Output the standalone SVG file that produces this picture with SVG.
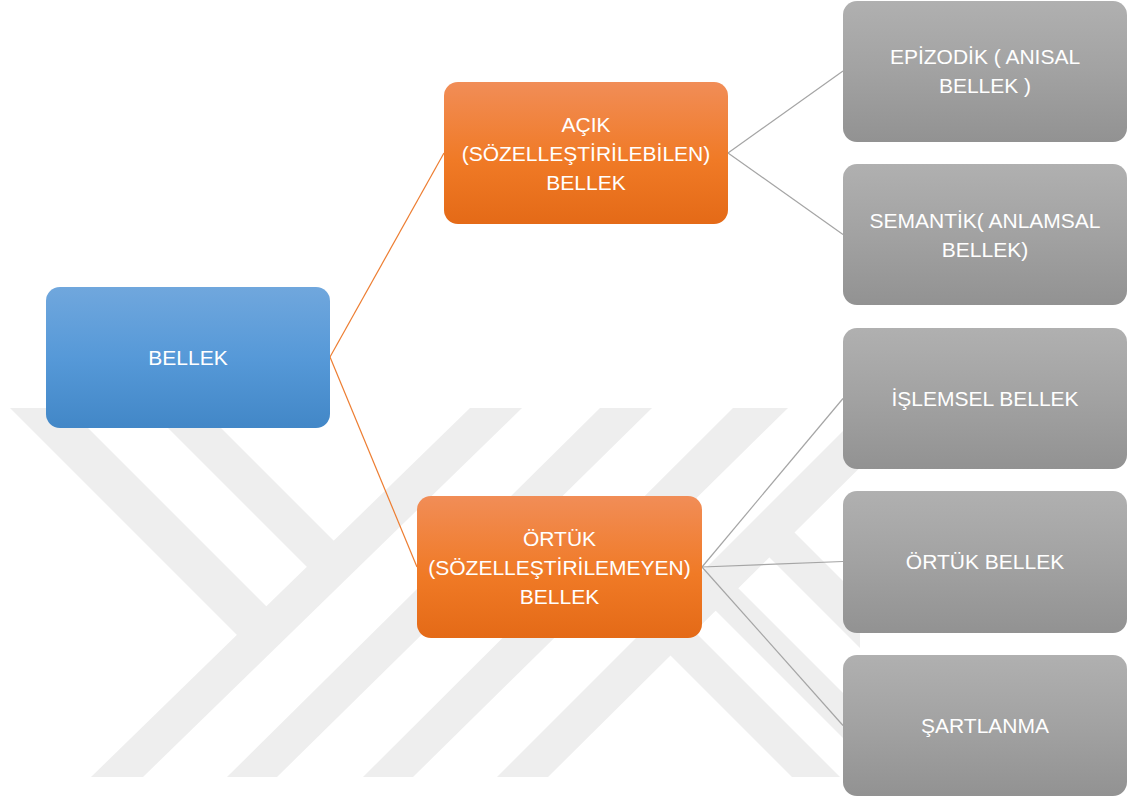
<svg xmlns="http://www.w3.org/2000/svg" width="1128" height="798" viewBox="0 0 1128 798">
  <defs>
    <linearGradient id="gBlue" x1="0" y1="0" x2="0" y2="1">
      <stop offset="0" stop-color="#70a7dd"/>
      <stop offset="0.5" stop-color="#5699d8"/>
      <stop offset="1" stop-color="#4287c7"/>
    </linearGradient>
    <linearGradient id="gOrange" x1="0" y1="0" x2="0" y2="1">
      <stop offset="0" stop-color="#f18d57"/>
      <stop offset="0.55" stop-color="#f07a26"/>
      <stop offset="1" stop-color="#e46a17"/>
    </linearGradient>
    <linearGradient id="gGrey" x1="0" y1="0" x2="0" y2="1">
      <stop offset="0" stop-color="#b0b0b0"/>
      <stop offset="0.5" stop-color="#a2a2a2"/>
      <stop offset="1" stop-color="#929292"/>
    </linearGradient>
    <style>
      .wm { fill: #eeeeee; }
      .lblue { fill: url(#gBlue); }
      .lorange { fill: url(#gOrange); }
      .lgrey { fill: url(#gGrey); }
      .t { font-family: "Liberation Sans", Arial, sans-serif; font-size: 21px; fill: #ffffff; text-anchor: middle; }
      .co { stroke: #ed7d31; stroke-width: 1.2; fill: none; }
      .cg { stroke: #a5a5a5; stroke-width: 1.2; fill: none; }
    </style>
  </defs>

  <rect x="0" y="0" width="1128" height="798" fill="#ffffff"/>

  <g id="watermark">
    <polygon class="wm" points="10,408 68,408 279,619 250,648"/>
    <polygon class="wm" points="148,408 201,408 347,554 320,580"/>
    <polygon class="wm" points="470,408 522,408 143,777 91,777"/>
    <polygon class="wm" points="600,408 652,408 277,777 227,777"/>
    <polygon class="wm" points="733,408 788,408 413,777 363,777"/>
    <polygon class="wm" points="866,408 920,408 548,777 497,777"/>
    <polygon class="wm" points="658,643 682,619 840,777 792,777"/>
    <polygon class="wm" points="703,598 726,576 860,710 860,755"/>
    <polygon class="wm" points="757,545 782,520 860,598 860,648"/>
  </g>

  <g id="connectors">
    <line class="co" x1="330" y1="357" x2="444" y2="153"/>
    <line class="co" x1="330" y1="357" x2="417" y2="567"/>
    <line class="cg" x1="728" y1="153" x2="843" y2="71"/>
    <line class="cg" x1="728" y1="153" x2="843" y2="234.5"/>
    <line class="cg" x1="702" y1="567" x2="843" y2="398.5"/>
    <line class="cg" x1="702" y1="567" x2="843" y2="561.5"/>
    <line class="cg" x1="702" y1="567" x2="843" y2="725.5"/>
  </g>

  <g id="node-bellek">
    <rect class="lblue" x="46" y="287" width="284" height="141" rx="14"/>
    <text class="t" x="188" y="365">BELLEK</text>
  </g>

  <g id="node-acik">
    <rect class="lorange" x="444" y="82" width="284" height="142" rx="14"/>
    <text class="t" x="586" y="132">AÇIK</text>
    <text class="t" x="586" y="161">(SÖZELLEŞTİRİLEBİLEN)</text>
    <text class="t" x="586" y="190">BELLEK</text>
  </g>

  <g id="node-ortuk">
    <rect class="lorange" x="417" y="496" width="285" height="142" rx="14"/>
    <text class="t" x="559.5" y="546">ÖRTÜK</text>
    <text class="t" x="559.5" y="575">(SÖZELLEŞTİRİLEMEYEN)</text>
    <text class="t" x="559.5" y="604">BELLEK</text>
  </g>

  <g id="node-epizodik">
    <rect class="lgrey" x="843" y="1" width="284" height="141" rx="14"/>
    <text class="t" x="985" y="64">EPİZODİK ( ANISAL</text>
    <text class="t" x="985" y="93">BELLEK )</text>
  </g>

  <g id="node-semantik">
    <rect class="lgrey" x="843" y="164" width="284" height="141" rx="14"/>
    <text class="t" x="985" y="228">SEMANTİK( ANLAMSAL</text>
    <text class="t" x="985" y="257">BELLEK)</text>
  </g>

  <g id="node-islemsel">
    <rect class="lgrey" x="843" y="328" width="284" height="141" rx="14"/>
    <text class="t" x="985" y="406">İŞLEMSEL BELLEK</text>
  </g>

  <g id="node-ortuk-bellek">
    <rect class="lgrey" x="843" y="491" width="284" height="142" rx="14"/>
    <text class="t" x="985" y="569">ÖRTÜK BELLEK</text>
  </g>

  <g id="node-sartlanma">
    <rect class="lgrey" x="843" y="655" width="284" height="141" rx="14"/>
    <text class="t" x="985" y="733">ŞARTLANMA</text>
  </g>
</svg>
